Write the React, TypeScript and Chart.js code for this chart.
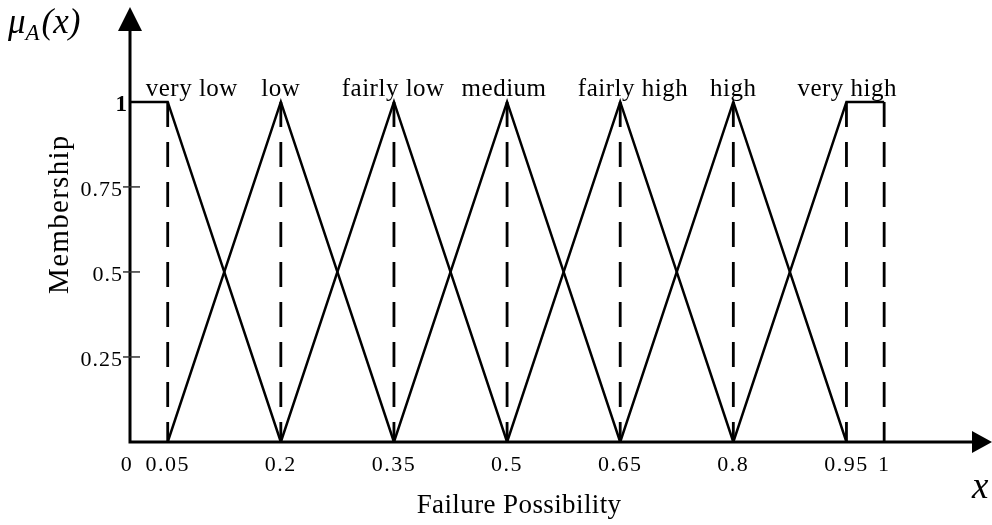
import React, { useEffect, useRef } from "react";
import { Chart, registerables } from "chart.js";

Chart.register(...registerables);

// ---- data ----
const setNames = ["very low", "low", "fairly low", "medium", "fairly high", "high", "very high"];
const setXs = [
  [0, 0.05, 0.2],
  [0.05, 0.2, 0.35],
  [0.2, 0.35, 0.5],
  [0.35, 0.5, 0.65],
  [0.5, 0.65, 0.8],
  [0.65, 0.8, 0.95],
  [0.8, 0.95, 1],
];
const setYs = [
  [1, 1, 0],
  [0, 1, 0],
  [0, 1, 0],
  [0, 1, 0],
  [0, 1, 0],
  [0, 1, 0],
  [0, 1, 1],
];
const labelXs = [0.082, 0.2, 0.349, 0.496, 0.667, 0.8, 0.951];
const dashedXs = [0.05, 0.2, 0.35, 0.5, 0.65, 0.8, 0.95, 1];
const xTickValues = [0, 0.05, 0.2, 0.35, 0.5, 0.65, 0.8, 0.95, 1];
const xTickLabels = ["0", "0.05", "0.2", "0.35", "0.5", "0.65", "0.8", "0.95", "1"];
const yTickValues = [0.25, 0.5, 0.75, 1];
const yTickLabels = ["0.25", "0.5", "0.75", "1"];
const xTitle = "Failure Possibility";
const yTitle = "Membership";

const SERIF = '"Liberation Serif", "DejaVu Serif", serif';

const drawPlugin = {
  id: "fuzzyDecor",
  afterDraw(chart: any) {
    const ctx = chart.ctx as CanvasRenderingContext2D;
    const xs = chart.scales.x;
    const ys = chart.scales.y;
    const area = chart.chartArea;
    const x0 = xs.getPixelForValue(0);
    const y0 = ys.getPixelForValue(0);
    ctx.save();
    ctx.strokeStyle = "#000";
    ctx.fillStyle = "#000";

    // axes
    ctx.lineWidth = 3;
    ctx.beginPath();
    ctx.moveTo(x0, y0 + 1.5);
    ctx.lineTo(x0, area.top + 20);
    ctx.moveTo(x0 - 1.5, y0);
    ctx.lineTo(area.right - 18, y0);
    ctx.stroke();
    // arrow heads
    ctx.beginPath();
    ctx.moveTo(x0, area.top);
    ctx.lineTo(x0 - 12, area.top + 24);
    ctx.lineTo(x0 + 12, area.top + 24);
    ctx.closePath();
    ctx.fill();
    ctx.beginPath();
    ctx.moveTo(area.right, y0);
    ctx.lineTo(area.right - 20, y0 - 11);
    ctx.lineTo(area.right - 20, y0 + 11);
    ctx.closePath();
    ctx.fill();

    // y ticks
    ctx.lineWidth = 1.5;
    ctx.strokeStyle = "#333";
    yTickValues.forEach((v, i) => {
      const py = ys.getPixelForValue(v);
      if (v !== 1) {
        ctx.beginPath();
        ctx.moveTo(x0 - 7, py);
        ctx.lineTo(x0 + 10, py);
        ctx.stroke();
      }
      ctx.font = (v === 1 ? "bold 23px " : "22px ") + SERIF;
      (ctx as any).letterSpacing = "1px";
      ctx.textAlign = "right";
      ctx.textBaseline = "alphabetic";
      ctx.fillText(yTickLabels[i], v === 1 ? x0 - 2 : x0 - 7, py + 9);
    });

    // x tick labels
    ctx.font = "22px " + SERIF;
    (ctx as any).letterSpacing = "1.5px";
    ctx.textAlign = "center";
    xTickValues.forEach((v, i) => {
      const px = xs.getPixelForValue(v);
      ctx.fillText(xTickLabels[i], px - (v === 0 ? 3 : 0), y0 + 29);
    });

    // set labels
    ctx.font = "25px " + SERIF;
    (ctx as any).letterSpacing = "0.5px";
    setNames.forEach((n, i) => {
      ctx.fillText(n, xs.getPixelForValue(labelXs[i]), ys.getPixelForValue(1) - 6);
    });

    // x title
    ctx.font = "27px " + SERIF;
    (ctx as any).letterSpacing = "0.4px";
    ctx.fillText(xTitle, (xs.getPixelForValue(0) + xs.getPixelForValue(1)) / 2 + 12, y0 + 71);

    // y title
    ctx.save();
    ctx.translate(68, ys.getPixelForValue(0.67));
    ctx.rotate(-Math.PI / 2);
    ctx.font = "29px " + SERIF;
    (ctx as any).letterSpacing = "1.3px";
    ctx.textAlign = "center";
    ctx.fillText(yTitle, 0, 0);
    ctx.restore();

    // mu_A(x)
    (ctx as any).letterSpacing = "0px";
    ctx.textAlign = "left";
    ctx.font = "italic 35px " + SERIF;
    ctx.fillText("μ", 8, 33);
    let w = ctx.measureText("μ").width;
    ctx.font = "italic 23px " + SERIF;
    ctx.fillText("A", 8 + w, 40);
    w += ctx.measureText("A").width + 2;
    ctx.font = "italic 35px " + SERIF;
    ctx.fillText("(x)", 8 + w, 33);

    // x label
    ctx.font = "italic 37px " + SERIF;
    ctx.fillText("x", 972, 498);

    ctx.restore();
  },
};

export default function App() {
  const ref = useRef<HTMLCanvasElement | null>(null);
  useEffect(() => {
    if (!ref.current) return;
    const datasets: any[] = [];
    setNames.forEach((n, i) => {
      datasets.push({
        label: n,
        data: setXs[i].map((x, j) => ({ x, y: setYs[i][j] })),
        borderColor: "#000",
        borderWidth: 2.5,
        pointRadius: 0,
        fill: false,
        tension: 0,
      });
    });
    dashedXs.forEach((x) => {
      datasets.push({
        label: "d" + x,
        data: [
          { x, y: 1 },
          { x, y: 0 },
        ],
        borderColor: "#000",
        borderWidth: 2.8,
        borderDash: [25, 15],
        pointRadius: 0,
        fill: false,
      });
    });
    const chart = new Chart(ref.current, {
      type: "line",
      data: { datasets },
      options: {
        animation: false,
        responsive: false,
        devicePixelRatio: 1,
        layout: { padding: { left: 130, right: 0, top: 7, bottom: 83 } },
        plugins: { legend: { display: false }, tooltip: { enabled: false } },
        scales: {
          x: { type: "linear", min: 0, max: 1.143, display: false },
          y: { type: "linear", min: 0, max: 1.279, display: false },
        },
      },
      plugins: [drawPlugin],
    });
    return () => chart.destroy();
  }, []);
  return (
    <div style={{ position: "absolute", left: 0, top: 0, width: 992, height: 525, background: "#fff" }}>
      <canvas ref={ref} width={992} height={525} />
    </div>
  );
}
